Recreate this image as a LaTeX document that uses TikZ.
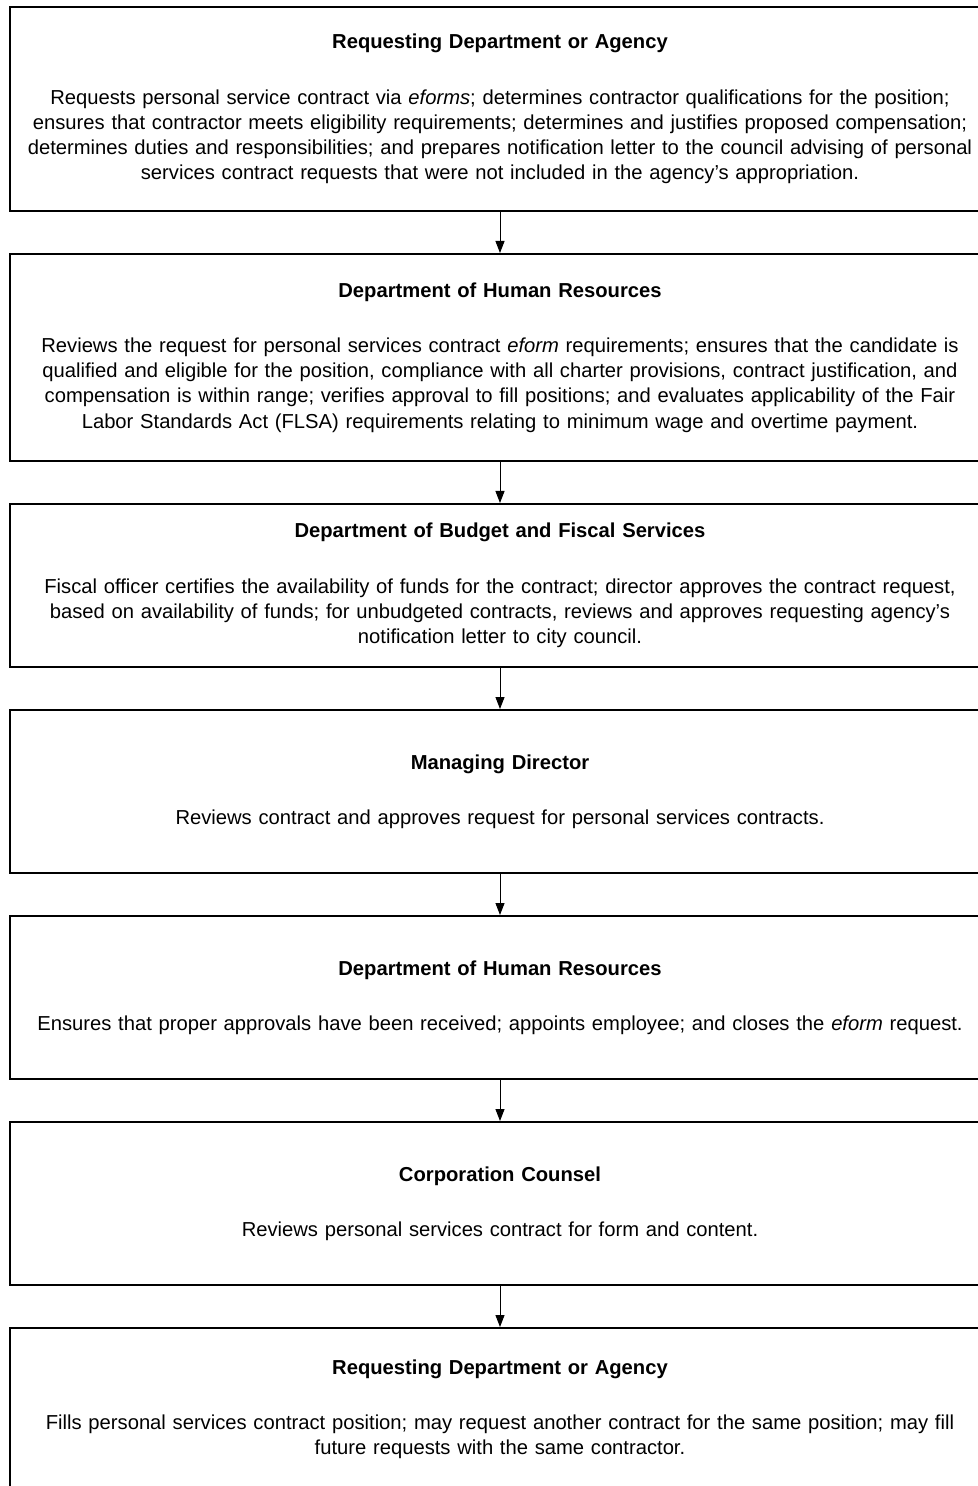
\documentclass[tikz,border=0pt]{standalone}
\usepackage{fontspec}
\setmainfont{Liberation Sans}
\usetikzlibrary{positioning,arrows.meta}

\begin{document}
\begin{tikzpicture}[
			stage/.style={rectangle, draw=black!100, line width=0.8pt, text width=486pt, inner sep=2pt, align=center, minimum height=81.7pt, font=\fontsize{10.1}{12.6}\selectfont},
			node distance=20.5pt
		]
		\useasboundingbox (-250pt,54.5pt) rectangle (239pt,-688.5pt);
		\clip (-250pt,54.5pt) rectangle (239pt,-688.5pt);
		\node[stage, minimum height=102.2pt] (reqtop) {\textbf{Requesting Department or Agency}\\[15pt]
			Requests personal service contract via \textit{eforms}; determines contractor qualifications for the position;\\
			ensures that contractor meets eligibility requirements; determines and justifies proposed compensation;\\
			determines duties and responsibilities; and prepares notification letter to the council advising of personal\\
			services contract requests that were not included in the agency’s appropriation.};
		\node[stage, minimum height=103.7pt] (hrtop) [below=of reqtop] {\textbf{Department of Human Resources}\\[15pt]
			Reviews the request for personal services contract \textit{eform} requirements; ensures that the candidate is\\
			qualified and eligible for the position, compliance with all charter provisions, contract justification, and\\
			compensation is within range; verifies approval to fill positions; and evaluates applicability of the Fair\\
			Labor Standards Act (FLSA) requirements relating to minimum wage and overtime payment.};
		\node[stage] (budget) [below=of hrtop] {\textbf{Department of Budget and Fiscal Services}\\[15pt]
			Fiscal officer certifies the availability of funds for the contract; director approves the contract request,\\
			based on availability of funds; for unbudgeted contracts, reviews and approves requesting agency’s\\
			notification letter to city council.};
		\node[stage] (managing) [below=of budget] {\textbf{Managing Director}\\[15pt]
			Reviews contract and approves request for personal services contracts.};
		\node[stage] (hrbottom) [below=of managing] {\textbf{Department of Human Resources}\\[15pt]
			Ensures that proper approvals have been received; appoints employee; and closes the \textit{eform} request.};
		\node[stage] (counsel) [below=of hrbottom] {\textbf{Corporation Counsel}\\[15pt]
			Reviews personal services contract for form and content.};
		\node[stage] (reqbottom) [below=of counsel] {\textbf{Requesting Department or Agency}\\[15pt]
			Fills personal services contract position; may request another contract for the same position; may fill\\
			future requests with the same contractor.};
		\begin{scope}[line width=0.5pt, -{Triangle[length=6pt, width=4.5pt]}]
		\draw (reqtop.south) -- (hrtop.north);
		\draw (hrtop.south) -- (budget.north);
		\draw (budget.south) -- (managing.north);
		\draw (managing.south) -- (hrbottom.north);
		\draw (hrbottom.south) -- (counsel.north);
		\draw (counsel.south) -- (reqbottom.north);
		\end{scope}
\end{tikzpicture}
\end{document}
